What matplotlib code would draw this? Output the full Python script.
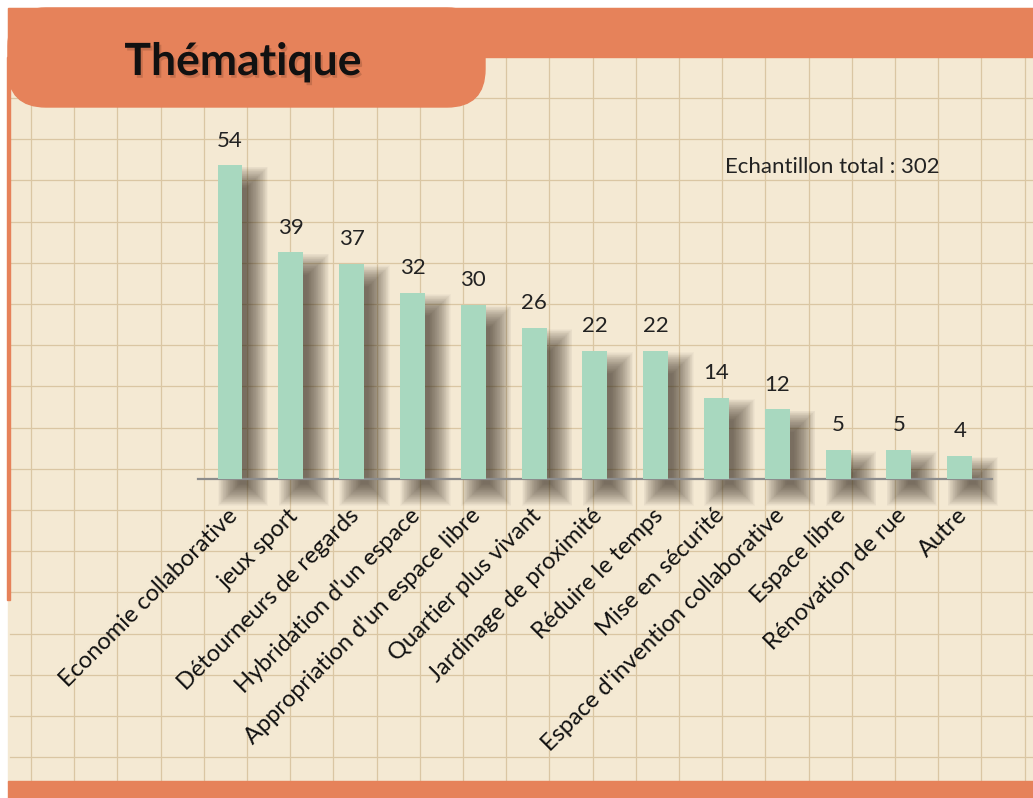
import matplotlib.pyplot as plt
import matplotlib.patheffects as pe
from matplotlib.patches import Rectangle, FancyBboxPatch
import numpy as np

plt.rcParams['font.family'] = ['Lato', 'DejaVu Sans']

# Data
categories = ['Economie collaborative', 'jeux sport', 'Détourneurs de regards',
              "Hybridation d'un espace", "Appropriation d'un espace libre",
              'Quartier plus vivant', 'Jardinage de proximité', 'Réduire le temps',
              'Mise en sécurité', "Espace d'invention collaborative", 'Espace libre',
              'Rénovation de rue', 'Autre']
counts = [54, 39, 37, 32, 30, 26, 22, 22, 14, 12, 5, 5, 4]
title = 'Thématique'
note = 'Echantillon total : 302'

orange = '#e6825a'
paper = '#f4e9d3'
grid_col = '#dac6a3'
bar_col = '#a8d8bf'

W, H = 1033, 798
fig = plt.figure(figsize=(W / 100, H / 100), dpi=100)
fig.patch.set_facecolor('white')

# background "paper" drawn in pixel units
bg = fig.add_axes([0, 0, 1, 1], zorder=0)
bg.set_xlim(0, W)
bg.set_ylim(H, 0)
bg.axis('off')
bg.add_patch(Rectangle((8, 8), W - 8, 775, color=paper, zorder=0))
for gx in np.arange(31, W, 43.2):
    bg.plot([gx, gx], [57, 781], color=grid_col, lw=0.9, zorder=1)
for gy in np.arange(98, 781, 41.2):
    bg.plot([10, W], [gy, gy], color=grid_col, lw=0.9, zorder=1)

# orange frame pieces
bg.add_patch(FancyBboxPatch((8, 8), 477, 99, boxstyle='round,pad=0,rounding_size=38',
                            color=orange, zorder=3))
bg.add_patch(Rectangle((8, 8), W - 8, 49, color=orange, zorder=3))
bg.add_patch(Rectangle((7, 57), 3, 543, color=orange, zorder=3))
bg.add_patch(Rectangle((8, 781), W - 8, 17, color=orange, zorder=3))

bg.text(243, 62, title, fontsize=32, fontweight='bold', ha='center', va='center',
        color='#111111', zorder=4,
        path_effects=[pe.withSimplePatchShadow(offset=(1.5, -2), shadow_rgbFace='#6a3a25', alpha=0.25)])
bg.text(725, 167, note, fontsize=16, ha='left', va='center', color='#222222', zorder=4)

# chart
px_x = 60.8   # pixels per category
px_y = 5.81   # pixels per unit
ax = fig.add_axes([198 / W, 1 - 479 / H, (992 - 198) / W, 354 / H], zorder=2)
ax.patch.set_alpha(0)
ax.set_xlim(-0.526, 12.53)
ax.set_ylim(0, 354 / px_y)

x = np.arange(len(categories))
bw = 0.41

# soft shadows: many translucent rectangles of growing size
dx, dy = 13 / px_x, 14 / px_y
for xi, v in zip(x, counts):
    for e in np.arange(-9, 13, 0.7):
        ex, ey = e / px_x, e / px_y
        ax.add_patch(Rectangle((xi - bw / 2 + dx - ex, -dy - ey), bw + 2 * ex, v + 2 * ey,
                               color='#352b20', alpha=0.026, lw=0, zorder=1, clip_on=False))

ax.axhline(0, color='#8c8c8c', lw=1.6, zorder=2, clip_on=False)
ax.bar(x, counts, width=bw, color=bar_col, zorder=3)

for xi, v in zip(x, counts):
    ax.annotate(str(v), (xi, v), xytext=(0, 13.5), textcoords='offset points',
                ha='center', va='baseline', fontsize=16, color='#222222')
    ax.annotate(categories[xi], (xi, 0), xytext=(3, -24), textcoords='offset points',
                ha='right', va='center', rotation=45, rotation_mode='anchor',
                fontsize=17, color='#111111', annotation_clip=False)

ax.set_xticks([])
ax.set_yticks([])
for s in ax.spines.values():
    s.set_visible(False)

fig.savefig('out.png', dpi=100)
